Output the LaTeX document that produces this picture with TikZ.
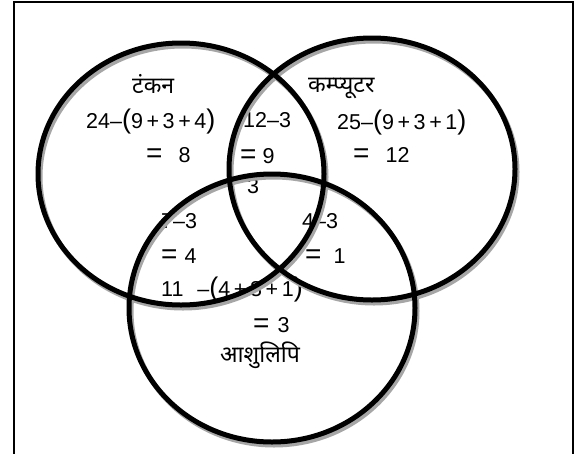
\documentclass[tikz,border=0pt]{standalone}
\usepackage{fontspec}
\setmainfont{Liberation Sans}
\newfontfamily\hindi[Script=Devanagari]{Noto Sans}
\newcommand{\bigeq}{{\fontsize{28}{28}\selectfont=}}
\newcommand{\bigpar}[1]{{\fontsize{27}{27}\selectfont(}#1{\fontsize{27}{27}\selectfont)}}
\newcommand{\pl}{\,+\,}

\begin{document}
\begin{tikzpicture}[x=1pt, y=-1pt,
        ring/.style={line width=5pt, draw=black},
        ringshadow/.style={line width=5pt, draw=black!35},
        sumlbl/.style={inner sep=0pt, anchor=base west, font=\fontsize{21.5}{24}\selectfont},
        setlbl/.style={inner sep=0pt, anchor=base west, font=\hindi\fontsize{23}{26}\selectfont}]
    \useasboundingbox (0,0) rectangle (586,453);
    \fill[white] (0,0) rectangle (586,453);
    \draw[line width=2pt] (14,2) rectangle (573,470);

    % set names
    \node[setlbl] (tankan)   at (132,93)  {टंकन};
    \node[setlbl] (computer) at (308,92)  {कम्प्यूटर};
    \node[setlbl] (aashu)    at (220,362) {आशुलिपि};

    % region counts
    \node[sumlbl] (tsum)  at (86,128)  {24–\bigpar{9\pl3\pl4}};
    \node[sumlbl] (tval)  at (146,162) {\bigeq\hspace{16pt}8};
    \node[sumlbl] (tcsum) at (243,127) {12–3};
    \node[sumlbl] (tcval) at (240,163) {\bigeq\hspace{6pt}9};
    \node[sumlbl] (all)   at (247,193) {3};
    \node[sumlbl] (csum)  at (337,129) {25–\bigpar{9\pl3\pl1}};
    \node[sumlbl] (cval)  at (353,162) {\bigeq\hspace{16pt}12};
    \node[sumlbl] (tasum) at (161,228) {7–3};
    \node[sumlbl] (taval) at (161,263) {\bigeq\hspace{7pt}4};
    \node[sumlbl] (casum) at (302,228) {4–3};
    \node[sumlbl] (caval) at (305,263) {\bigeq\hspace{12pt}1};
    \node[sumlbl] (asum)  at (161,296) {11\hspace{14pt}–\bigpar{4\pl3\pl1}};
    \node[sumlbl] (aval)  at (253,332) {\bigeq\hspace{8pt}3};

    % circles with their shadows
    \foreach \cx/\cy/\ry in {181/174/131, 372/169/131, 272/308/134}
        \draw[ringshadow] (\cx+2,\cy+3) ellipse [x radius=143, y radius=\ry];
    \foreach \cx/\cy/\ry in {181/174/131, 372/169/131, 272/308/134}
        \draw[ring] (\cx,\cy) ellipse [x radius=143, y radius=\ry];
\end{tikzpicture}
\end{document}
